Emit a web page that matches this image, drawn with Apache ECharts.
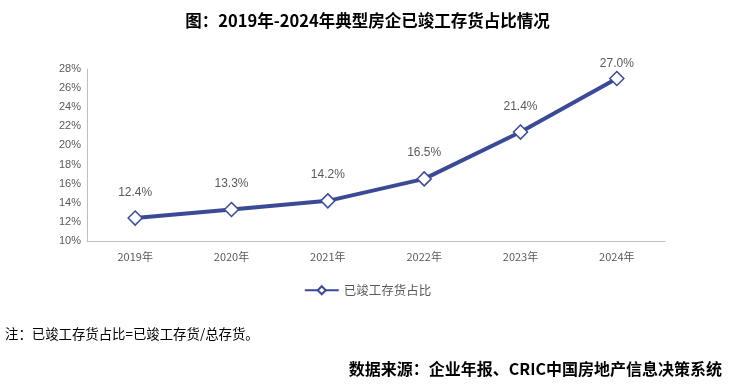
<!DOCTYPE html>
<html><head><meta charset="utf-8">
<script src="https://cdn.jsdelivr.net/npm/echarts@6/dist/echarts.min.js"></script>
<style>html,body{margin:0;padding:0;background:#fff;}#c{width:735px;height:387px;}</style>
</head><body><div id="c"></div>
<script>
var categories = ['2019年','2020年','2021年','2022年','2023年','2024年'];
var values = [12.4, 13.3, 14.2, 16.5, 21.4, 27.0];
var seriesName = '已竣工存货占比';
var chart = echarts.init(document.getElementById('c'));
var seriesData = values.map(function(v, i){
  return i === values.length - 1 ? {value: v, label: {distance: 1}} : v;
});
chart.setOption({
  backgroundColor:'#fff',
  animation:false,
  title:[
    {text:'图：2019年-2024年典型房企已竣工存货占比情况',left:'center',top:7,textStyle:{fontFamily:'Noto Sans CJK SC',fontWeight:'bold',fontSize:16.5,color:'#000'}},
    {text:'注：已竣工存货占比=已竣工存货/总存货。',left:0,top:322,textStyle:{fontFamily:'Noto Sans CJK SC',fontWeight:'normal',fontSize:13.4,color:'#000'}},
    {text:'数据来源：企业年报、CRIC中国房地产信息决策系统',right:8,top:356,textStyle:{fontFamily:'Noto Sans CJK SC',fontWeight:'bold',fontSize:16,color:'#000'}}
  ],
  legend:{data:[seriesName],top:279,left:'center',itemWidth:34,itemHeight:10,itemGap:8,textStyle:{fontFamily:'Noto Sans CJK SC',fontSize:12.5,color:'#595959'}},
  grid:{left:87,right:70,top:69,bottom:146},
  xAxis:{type:'category',data:categories,boundaryGap:true,
    axisLine:{lineStyle:{color:'#bfbfbf'}},axisTick:{show:false},
    axisLabel:{color:'#595959',fontSize:11,margin:10,fontFamily:'Noto Sans CJK SC'}},
  yAxis:{type:'value',min:10,max:28,interval:2,
    axisLine:{show:true,lineStyle:{color:'#bfbfbf'}},axisTick:{show:false},splitLine:{show:false},
    axisLabel:{color:'#595959',fontSize:11,margin:6,formatter:'{value}%',fontFamily:'Liberation Sans'}},
  series:[{name:seriesName,type:'line',data:seriesData,
    lineStyle:{color:'#3b4a97',width:4},
    itemStyle:{color:'#fff',borderColor:'#3b4a97',borderWidth:1.5},
    symbol:'diamond',symbolSize:14,
    label:{show:true,position:'top',distance:12,color:'#595959',fontSize:12,fontFamily:'Liberation Sans',formatter:function(p){return p.value.toFixed(1)+'%';}}
  }]
});
</script></body></html>
